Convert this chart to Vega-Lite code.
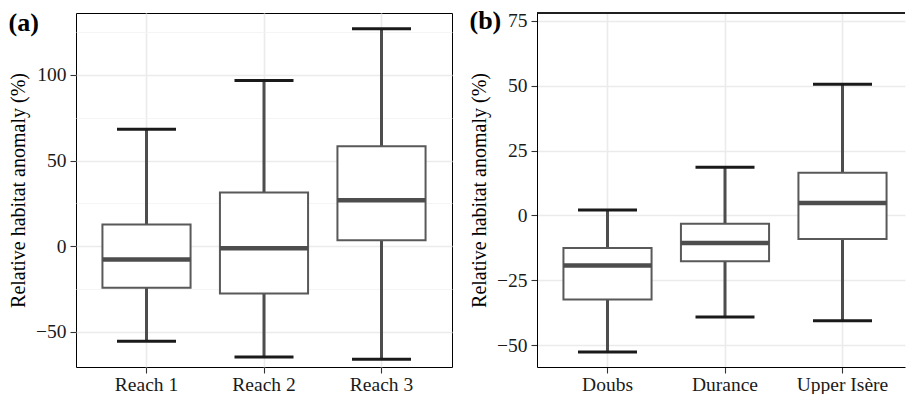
{
  "$schema": "https://vega.github.io/schema/vega-lite/v6.json",
  "padding": {"left": 8, "top": 7, "right": 0, "bottom": 0},
  "background": "white",
  "spacing": 16,
  "datasets": {
    "a": [
      {"cat": "Reach 1", "lower": -55.6, "q1": -24.3, "median": -7.8, "q3": 12.7, "upper": 68.3},
      {"cat": "Reach 2", "lower": -64.8, "q1": -27.6, "median": -1.3, "q3": 31.3, "upper": 96.7},
      {"cat": "Reach 3", "lower": -66.1, "q1": 3.5, "median": 26.8, "q3": 58.4, "upper": 127.0}
    ],
    "b": [
      {"cat": "Doubs", "lower": -52.6, "q1": -32.4, "median": -19.3, "q3": -12.5, "upper": 2.1},
      {"cat": "Durance", "lower": -39.1, "q1": -17.7, "median": -10.6, "q3": -3.2, "upper": 18.6},
      {"cat": "Upper Isère", "lower": -40.6, "q1": -9.1, "median": 4.8, "q3": 16.4, "upper": 50.5}
    ]
  },
  "config": {
    "font": "Liberation Serif",
    "view": {"stroke": "black", "strokeWidth": 1},
    "tick": {"opacity": 1},
    "axis": {
      "labelFont": "Liberation Serif", "labelFontSize": 19.5, "labelColor": "#1a1a1a",
      "titleFont": "Liberation Serif", "titleFontSize": 20, "titleFontWeight": "normal", "titleColor": "black",
      "tickColor": "#333333", "tickSize": 6, "tickWidth": 1.1, "labelPadding": 4,
      "domainColor": "black", "domainWidth": 1, "gridColor": "#ebebeb", "gridWidth": 1.6
    },
    "axisX": {"labelPadding": 2},
    "title": {"font": "Liberation Serif", "fontSize": 26, "fontWeight": "bold", "anchor": "start", "frame": "bounds", "offset": -23, "baseline": "alphabetic", "color": "black"}
  },
  "hconcat": [
    {
      "title": "(a)",
      "width": 376, "height": 354,
      "data": {"name": "a"},
      "layer": [
        {"mark": {"type": "rule", "color": "#4d4d4d", "strokeWidth": 3},
          "encoding": {
            "x": {"field": "cat", "type": "nominal", "sort": null, "title": null,
              "scale": {"paddingInner": 0, "paddingOuter": 0.1},
              "axis": {"labelAngle": 0, "grid": true, "domain": false}},
            "y": {"field": "lower", "type": "quantitative", "title": "Relative habitat anomaly (%)",
              "scale": {"domain": [-70.6, 136.2], "nice": false, "zero": false},
              "axis": {"values": [-50, -25, 0, 25, 50, 75, 100, 125],
                "labelExpr": "datum.value % 50 === 0 ? replace(datum.label, '-', '−') : ''",
                "tickOpacity": {"condition": {"test": "datum.value % 50 !== 0", "value": 0}, "value": 1},
                "gridWidth": {"condition": {"test": "datum.value % 50 !== 0", "value": 0.8}, "value": 1.6},
                "gridColor": {"condition": {"test": "datum.value % 50 !== 0", "value": "#f2f2f2"}, "value": "#ebebeb"},
                "domain": false, "titlePadding": 7}},
            "y2": {"field": "upper"}
          }},
        {"mark": {"type": "bar", "fill": "white", "stroke": "#595959", "strokeWidth": 2, "width": {"band": 0.75}},
          "encoding": {"x": {"field": "cat", "type": "nominal", "sort": null, "title": null},
            "y": {"field": "q1", "type": "quantitative", "title": "Relative habitat anomaly (%)"}, "y2": {"field": "q3"}}},
        {"mark": {"type": "tick", "color": "#1a1a1a", "thickness": 3, "size": 59, "opacity": 1},
          "encoding": {"x": {"field": "cat", "type": "nominal", "sort": null, "title": null},
            "y": {"field": "lower", "type": "quantitative", "title": "Relative habitat anomaly (%)"}}},
        {"mark": {"type": "tick", "color": "#1a1a1a", "thickness": 3, "size": 59, "opacity": 1},
          "encoding": {"x": {"field": "cat", "type": "nominal", "sort": null, "title": null},
            "y": {"field": "upper", "type": "quantitative", "title": "Relative habitat anomaly (%)"}}},
        {"mark": {"type": "tick", "color": "#4d4d4d", "thickness": 4.5, "size": 88, "opacity": 1},
          "encoding": {"x": {"field": "cat", "type": "nominal", "sort": null, "title": null},
            "y": {"field": "median", "type": "quantitative", "title": "Relative habitat anomaly (%)"}}}
      ]
    },
    {
      "title": "(b)",
      "width": 368, "height": 354,
      "view": {"stroke": null},
      "data": {"name": "b"},
      "layer": [
        {"mark": {"type": "rule", "color": "#4d4d4d", "strokeWidth": 3},
          "encoding": {
            "x": {"field": "cat", "type": "nominal", "sort": null, "title": null,
              "scale": {"paddingInner": 0, "paddingOuter": 0.066, "align": 0.758},
              "axis": {"labelAngle": 0, "grid": true, "domain": true}},
            "y": {"field": "lower", "type": "quantitative", "title": "Relative habitat anomaly (%)",
              "scale": {"domain": [-58.4, 78], "nice": false, "zero": false},
              "axis": {"values": [-50, -37.5, -25, -12.5, 0, 12.5, 25, 37.5, 50, 62.5, 75],
                "labelExpr": "datum.value % 25 === 0 ? replace(datum.label, '-', '−') : ''",
                "tickOpacity": {"condition": {"test": "datum.value % 25 !== 0", "value": 0}, "value": 1},
                "gridWidth": {"condition": {"test": "datum.value % 25 !== 0", "value": 0.8}, "value": 1.6},
                "gridColor": {"condition": {"test": "datum.value % 25 !== 0", "value": "#f2f2f2"}, "value": "#ebebeb"},
                "domain": true, "titlePadding": 7}},
            "y2": {"field": "upper"}
          }},
        {"mark": {"type": "bar", "fill": "white", "stroke": "#595959", "strokeWidth": 2, "width": {"band": 0.75}},
          "encoding": {"x": {"field": "cat", "type": "nominal", "sort": null, "title": null},
            "y": {"field": "q1", "type": "quantitative", "title": "Relative habitat anomaly (%)"}, "y2": {"field": "q3"}}},
        {"mark": {"type": "tick", "color": "#1a1a1a", "thickness": 3, "size": 59, "opacity": 1},
          "encoding": {"x": {"field": "cat", "type": "nominal", "sort": null, "title": null},
            "y": {"field": "lower", "type": "quantitative", "title": "Relative habitat anomaly (%)"}}},
        {"mark": {"type": "tick", "color": "#1a1a1a", "thickness": 3, "size": 59, "opacity": 1},
          "encoding": {"x": {"field": "cat", "type": "nominal", "sort": null, "title": null},
            "y": {"field": "upper", "type": "quantitative", "title": "Relative habitat anomaly (%)"}}},
        {"mark": {"type": "tick", "color": "#4d4d4d", "thickness": 4.5, "size": 88, "opacity": 1},
          "encoding": {"x": {"field": "cat", "type": "nominal", "sort": null, "title": null},
            "y": {"field": "median", "type": "quantitative", "title": "Relative habitat anomaly (%)"}}},
        {"mark": {"type": "rule", "color": "black", "strokeWidth": 1},
          "encoding": {"y": {"datum": 78}}}
      ]
    }
  ]
}
